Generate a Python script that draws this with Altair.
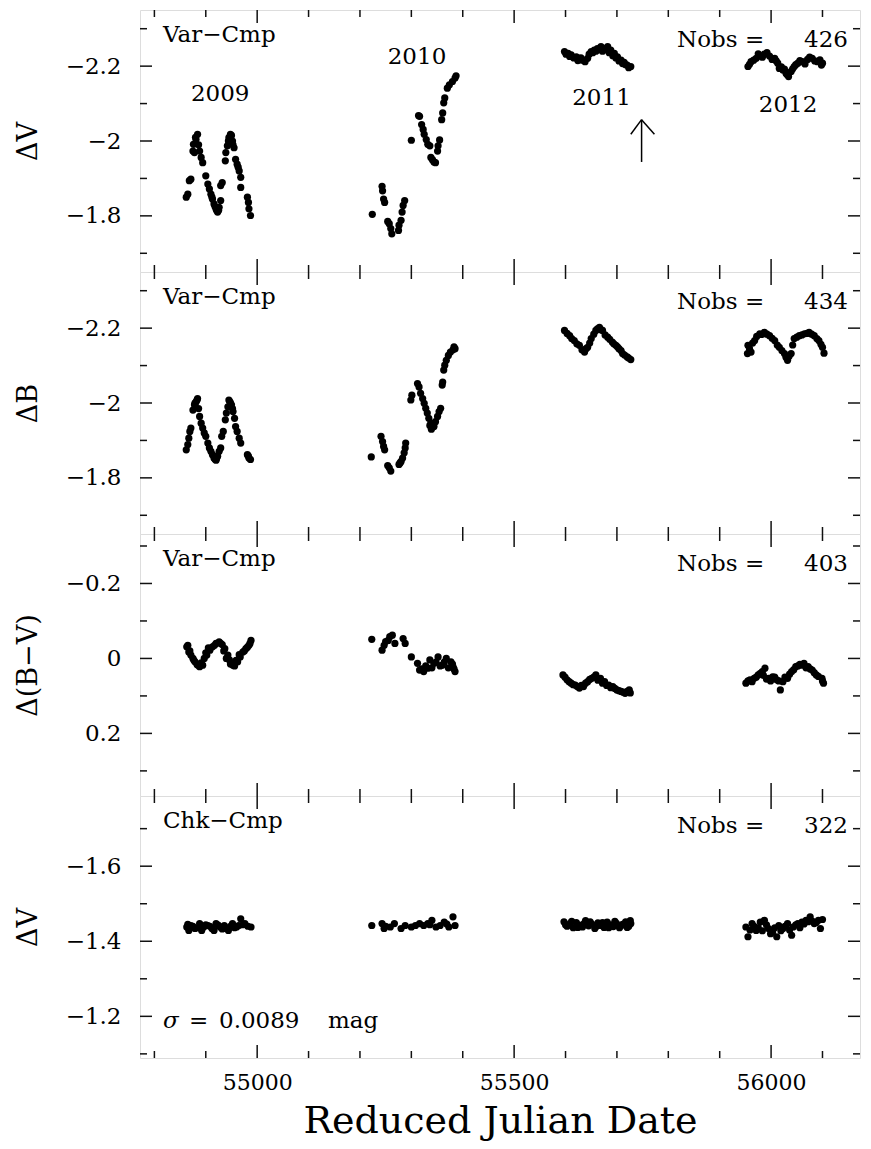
import altair as alt
import pandas as pd

FONT = "DejaVu Serif"
XDOM = [54772, 56173]
W, H = 720, 262

# ---------------- data ----------------
# Panel 1: Var-Cmp, Delta V
V_2009 = [(54862,-1.850),(54865,-1.858),(54868,-1.894),(54871,-1.898),(54875,-1.973),(54876,-1.991),
          (54878,-1.969),(54880,-2.010),(54881,-2.004),(54884,-2.018),(54886,-1.990),(54888,-1.973),
          (54891,-1.956),(54894,-1.942),(54900,-1.907),(54904,-1.885),(54907,-1.872),(54910,-1.858),
          (54912,-1.850),(54913,-1.845),(54916,-1.832),(54918,-1.825),(54920,-1.819),(54921,-1.815),
          (54923,-1.810),(54925,-1.815),(54926,-1.823),(54929,-1.841),(54929,-1.881),(54932,-1.889),
          (54938,-1.947),(54939,-1.969),(54942,-1.987),(54944,-2.000),(54945,-2.009),(54948,-2.018),
          (54950,-2.015),(54952,-2.000),(54953,-1.990),(54955,-1.982),(54958,-1.951),(54961,-1.938),
          (54963,-1.930),(54965,-1.920),(54968,-1.903),(54968,-1.876),(54981,-1.850),(54983,-1.836),
          (54984,-1.819),(54987,-1.801)]
V_2010 = [(55224,-1.804),(55243,-1.879),(55244,-1.867),(55246,-1.845),(55248,-1.836),(55254,-1.785),
          (55257,-1.779),(55260,-1.766),(55262,-1.752),(55275,-1.761),(55276,-1.775),(55280,-1.788),
          (55282,-1.810),(55284,-1.828),(55287,-1.841),(55300,-2.002),(55314,-2.068),(55316,-2.066),
          (55320,-2.044),(55323,-2.031),(55325,-2.018),(55329,-2.004),(55332,-1.991),(55336,-1.987),
          (55338,-1.956),(55341,-1.950),(55344,-1.944),(55347,-1.942),(55351,-1.973),(55352,-1.987),
          (55355,-2.003),(55359,-2.057),(55361,-2.075),(55363,-2.102),(55365,-2.115),(55370,-2.141),
          (55374,-2.150),(55380,-2.159),(55385,-2.168),(55387,-2.174)]
V_2011 = [(55598,-2.239),(55605,-2.234),(55611,-2.230),(55621,-2.225),(55627,-2.221),(55633,-2.216),
          (55638,-2.212),(55643,-2.221),(55650,-2.239),(55656,-2.243),(55662,-2.247),(55669,-2.252),
          (55675,-2.247),(55682,-2.252),(55688,-2.243),(55695,-2.234),(55701,-2.225),(55708,-2.216),
          (55714,-2.210),(55720,-2.203),(55727,-2.199),
          (55601,-2.232),(55608,-2.226),(55616,-2.222),(55624,-2.215),(55630,-2.222),(55646,-2.232),
          (55653,-2.236),(55659,-2.240),(55666,-2.244),(55672,-2.240),(55679,-2.244),(55685,-2.236),
          (55692,-2.228),(55698,-2.222),(55704,-2.214),(55711,-2.207),(55717,-2.204),(55723,-2.196)]
V_2012 = [(55955,-2.199),(55961,-2.212),(55971,-2.221),(55978,-2.227),(55987,-2.232),(55997,-2.227),
          (56007,-2.221),(56013,-2.208),(56016,-2.194),(56023,-2.190),(56029,-2.181),(56034,-2.172),
          (56039,-2.186),(56045,-2.199),(56052,-2.208),(56061,-2.212),(56071,-2.218),(56080,-2.221),
          (56090,-2.212),(56100,-2.208),
          (55958,-2.205),(55966,-2.216),(55975,-2.233),(55983,-2.224),(55992,-2.236),(56002,-2.218),
          (56010,-2.214),(56020,-2.198),(56026,-2.192),(56031,-2.178),(56042,-2.193),(56048,-2.204),
          (56056,-2.215),(56066,-2.206),(56075,-2.224),(56085,-2.214),(56095,-2.217),(56098,-2.203)]

# Panel 2: Var-Cmp, Delta B
B_2009 = [(54862,-1.875),(54865,-1.889),(54867,-1.906),(54869,-1.924),(54871,-1.933),(54875,-1.981),
          (54878,-1.995),(54881,-2.003),(54884,-2.012),(54888,-1.964),(54891,-1.946),(54894,-1.933),
          (54897,-1.920),(54900,-1.911),(54904,-1.893),(54907,-1.880),(54910,-1.871),(54913,-1.862),
          (54916,-1.853),(54920,-1.847),(54923,-1.858),(54926,-1.871),(54929,-1.880),(54931,-1.911),
          (54934,-1.924),(54938,-1.955),(54940,-1.973),(54943,-1.990),(54947,-2.003),(54950,-1.995),
          (54953,-1.977),(54956,-1.959),(54958,-1.937),(54961,-1.924),(54965,-1.906),(54968,-1.893),
          (54981,-1.862),(54984,-1.853),(54987,-1.849),
          (54879,-2.000),(54883,-2.008),(54886,-1.985),(54918,-1.850),(54921,-1.852),(54945,-2.008),
          (54948,-2.000),(54952,-1.985),(54983,-1.858)]
B_2010 = [(55222,-1.856),(55241,-1.911),(55244,-1.897),(55246,-1.884),(55248,-1.875),(55254,-1.833),
          (55257,-1.827),(55260,-1.818),(55276,-1.836),(55280,-1.844),(55283,-1.853),(55286,-1.867),
          (55288,-1.880),(55289,-1.893),(55299,-2.008),(55301,-2.021),(55312,-2.052),(55315,-2.043),
          (55318,-2.026),(55322,-2.012),(55325,-1.999),(55328,-1.986),(55331,-1.973),(55334,-1.959),
          (55338,-1.946),(55341,-1.936),(55344,-1.937),(55347,-1.950),(55351,-1.964),(55354,-1.977),
          (55357,-1.986),(55360,-2.048),(55361,-2.056),(55363,-2.088),(55365,-2.101),(55368,-2.114),
          (55372,-2.127),(55376,-2.136),(55381,-2.142),(55385,-2.145),
          (55278,-1.840),(55336,-1.940),(55339,-1.930),(55383,-2.150)]
B_2011 = [(55598,-2.194),(55608,-2.180),(55617,-2.167),(55627,-2.154),(55637,-2.136),(55643,-2.149),
          (55650,-2.172),(55659,-2.194),(55666,-2.202),(55672,-2.194),(55682,-2.176),(55691,-2.163),
          (55698,-2.154),(55704,-2.145),(55711,-2.132),(55720,-2.123),(55727,-2.116),
          (55603,-2.186),(55612,-2.172),(55622,-2.158),(55632,-2.142),(55640,-2.145),(55647,-2.160),
          (55655,-2.184),(55662,-2.198),(55669,-2.196),(55677,-2.182),(55686,-2.170),(55694,-2.158),
          (55701,-2.150),(55708,-2.140),(55715,-2.128),(55723,-2.120)]
B_2012 = [(55955,-2.154),(55954,-2.132),(55961,-2.136),(55968,-2.167),(55978,-2.185),(55987,-2.189),
          (55997,-2.180),(56007,-2.167),(56016,-2.149),(56026,-2.132),(56032,-2.114),(56039,-2.132),
          (56045,-2.172),(56055,-2.180),(56065,-2.185),(56074,-2.189),(56084,-2.180),(56093,-2.167),
          (56100,-2.149),(56103,-2.133),
          (55958,-2.145),(55964,-2.160),(55972,-2.178),(55982,-2.183),(55992,-2.184),(56002,-2.173),
          (56012,-2.155),(56021,-2.140),(56029,-2.122),(56035,-2.125),(56042,-2.155),(56050,-2.176),
          (56060,-2.182),(56070,-2.186),(56079,-2.184),(56089,-2.172),(56097,-2.157)]

# Panel 3: Var-Cmp, Delta(B-V)
BV_2009 = [(54863,-0.031),(54867,-0.017),(54871,-0.009),(54875,0.000),(54879,0.009),(54883,0.016),
           (54888,0.022),(54894,0.018),(54897,0.000),(54902,-0.009),(54908,-0.022),(54913,-0.031),
           (54920,-0.040),(54926,-0.044),(54932,-0.037),(54937,-0.026),(54943,-0.009),(54946,0.004),
           (54950,0.013),(54956,0.020),(54962,0.009),(54967,-0.004),(54972,-0.017),(54978,-0.026),
           (54984,-0.035),(54988,-0.048),
           (54865,-0.035),(54869,-0.020),(54877,0.005),(54885,0.018),(54891,0.012),(54900,-0.015),
           (54905,-0.028),(54917,-0.035),(54929,-0.040),(54935,-0.020),(54940,0.000),(54948,0.015),
           (54953,0.018),(54959,0.005),(54965,-0.010),(54975,-0.020),(54981,-0.030),(54986,-0.040)]
BV_2010 = [(55223,-0.051),(55243,-0.022),(55247,-0.035),(55255,-0.048),(55263,-0.062),(55284,-0.053),
           (55288,-0.040),(55300,-0.004),(55312,0.013),(55316,0.031),(55324,0.035),(55332,0.026),
           (55336,0.004),(55344,0.013),(55352,-0.004),(55360,0.018),(55368,0.000),(55377,0.009),
           (55381,0.022),(55385,0.035),
           (55250,-0.045),(55258,-0.058),(55268,-0.040),(55320,0.028),(55328,0.020),(55340,0.025),
           (55348,0.010),(55356,0.020),(55364,0.010),(55372,0.025),(55380,0.015),(55383,0.028)]
BV_2011 = [(55595,0.044),(55603,0.057),(55611,0.066),(55619,0.071),(55627,0.079),(55635,0.075),
           (55643,0.062),(55651,0.053),(55659,0.044),(55668,0.053),(55676,0.062),(55684,0.071),
           (55692,0.075),(55700,0.084),(55708,0.088),(55716,0.093),(55724,0.084),
           (55599,0.050),(55607,0.062),(55615,0.070),(55623,0.075),(55631,0.072),(55639,0.066),
           (55647,0.056),(55655,0.050),(55663,0.058),(55672,0.066),(55680,0.072),(55688,0.078),
           (55696,0.080),(55704,0.086),(55712,0.090),(55720,0.088),(55726,0.092)]
BV_2012 = [(55951,0.066),(55959,0.057),(55967,0.053),(55975,0.044),(55983,0.035),(55988,0.026),
           (55995,0.053),(56003,0.049),(56011,0.057),(56018,0.084),(56023,0.062),(56032,0.053),
           (56040,0.035),(56048,0.022),(56056,0.016),(56064,0.013),(56072,0.022),(56080,0.031),
           (56088,0.044),(56099,0.053),(56102,0.066),
           (55955,0.060),(55963,0.062),(55971,0.050),(55979,0.040),(55985,0.045),(55991,0.055),
           (55999,0.060),(56007,0.050),(56015,0.060),(56027,0.050),(56036,0.042),(56044,0.030),
           (56052,0.020),(56060,0.018),(56068,0.025),(56076,0.028),(56084,0.038),(56092,0.048),
           (56100,0.060)]

# Panel 4: Chk-Cmp, Delta V
C_2009 = [(54863,-1.438),(54867,-1.429),(54871,-1.442),(54879,-1.434),(54888,-1.447),(54892,-1.429),
          (54896,-1.438),(54904,-1.442),(54912,-1.434),(54916,-1.429),(54920,-1.447),(54928,-1.438),
          (54936,-1.442),(54940,-1.434),(54944,-1.429),(54952,-1.447),(54960,-1.438),(54964,-1.442),
          (54968,-1.460),(54976,-1.447),(54988,-1.438),
          (54865,-1.445),(54875,-1.440),(54884,-1.436),(54900,-1.444),(54908,-1.440),(54924,-1.443),
          (54932,-1.433),(54948,-1.440),(54956,-1.436),(54972,-1.444),(54982,-1.440)]
C_2010 = [(55223,-1.442),(55243,-1.447),(55247,-1.434),(55259,-1.438),(55267,-1.447),(55280,-1.434),
          (55288,-1.442),(55300,-1.438),(55308,-1.442),(55316,-1.447),(55324,-1.442),(55332,-1.447),
          (55340,-1.456),(55348,-1.438),(55356,-1.442),(55364,-1.451),(55373,-1.438),(55381,-1.465),
          (55385,-1.442),(55250,-1.440),(55336,-1.444),(55369,-1.446)]
C_2011 = [(55597,-1.452),(55603,-1.440),(55609,-1.447),(55615,-1.436),(55621,-1.450),(55627,-1.443),
          (55633,-1.438),(55639,-1.455),(55645,-1.441),(55651,-1.446),(55657,-1.434),(55663,-1.449),
          (55669,-1.442),(55675,-1.437),(55681,-1.451),(55687,-1.444),(55693,-1.439),(55699,-1.448),
          (55705,-1.436),(55711,-1.445),(55717,-1.452),(55723,-1.440),(55727,-1.447),
          (55600,-1.444),(55612,-1.453),(55624,-1.437),(55636,-1.447),(55648,-1.452),(55660,-1.440),
          (55672,-1.450),(55684,-1.436),(55696,-1.453),(55708,-1.441),(55720,-1.437),(55726,-1.455)]
C_2012 = [(55951,-1.438),(55955,-1.412),(55963,-1.447),(55971,-1.429),(55979,-1.451),(55987,-1.456),
          (55995,-1.434),(56003,-1.425),(56011,-1.412),(56015,-1.442),(56023,-1.434),(56032,-1.447),
          (56040,-1.416),(56043,-1.438),(56052,-1.447),(56060,-1.451),(56068,-1.456),(56076,-1.465),
          (56084,-1.447),(56092,-1.456),(56096,-1.434),
          (55959,-1.430),(55967,-1.440),(55975,-1.436),(55983,-1.428),(55991,-1.444),(55999,-1.420),
          (56007,-1.436),(56019,-1.428),(56027,-1.440),(56036,-1.430),(56048,-1.444),(56056,-1.436),
          (56064,-1.446),(56072,-1.452),(56080,-1.454),(56088,-1.450),(56100,-1.458)]

# axis tick values
X_MAJOR = [55000, 55500, 56000]
X_MINOR = [54800, 54900, 55100, 55200, 55300, 55400, 55600, 55700, 55800, 55900, 56100]

# annotations
YEARS = ["2009", "2010", "2011", "2012"]
YEAR_JD = [54928, 55311, 55670, 56033]
YEAR_MAG = [-2.125, -2.224, -2.115, -2.095]
ARROW_JD = [55748, 55748, 55748]
ARROW_MAG = [-1.944, -2.057, -2.057]
ARROW_JD2 = [55748, 55727, 55773]
ARROW_MAG2 = [-2.057, -2.018, -2.018]

TS = 23  # text size


def frame(seasons):
    rows = [p for s in seasons for p in s]
    return pd.DataFrame(rows, columns=["jd", "mag"])


def panel(seasons, ydom, ymajor, yminor, ytitle, tag, nobs, bottom=False, extras=()):
    if bottom:
        xaxis = alt.Axis(values=X_MAJOR, format="d", ticks=False, tickSize=0, domain=False, grid=False,
                         labelPadding=14, labelFont=FONT, labelFontSize=22, labelColor="black",
                         title="Reduced Julian Date", titleFont=FONT, titleFontSize=38,
                         titleFontWeight="normal", titleColor="black", titlePadding=9)
    else:
        xaxis = None
    yaxis = alt.Axis(values=ymajor, format="~g", ticks=False, tickSize=0, domain=False, grid=False,
                     labelPadding=19, labelFont=FONT, labelFontSize=TS, labelColor="black",
                     title=ytitle, titleFont=FONT, titleFontSize=27, titleFontWeight="normal",
                     titleColor="black", titleX=-98)

    def X():
        return alt.X("jd:Q", scale=alt.Scale(domain=XDOM, nice=False, zero=False), axis=xaxis)

    def Y():
        return alt.Y("mag:Q", scale=alt.Scale(domain=ydom, reverse=True, nice=False, zero=False),
                     axis=yaxis)

    layers = []
    pts = alt.Chart(frame(seasons)).mark_circle(size=52, color="black", opacity=1).encode(x=X(), y=Y())
    layers.append(pts)

    rule = dict(color="#111111", strokeWidth=1.5)
    for vals, ln in ((X_MAJOR, 13), (X_MINOR, 7)):
        d = pd.DataFrame({"jd": vals})
        layers.append(alt.Chart(d).mark_rule(**rule).encode(x=X(), y=alt.value(H), y2=alt.value(H - ln)))
        layers.append(alt.Chart(d).mark_rule(**rule).encode(x=X(), y=alt.value(0), y2=alt.value(ln)))
    for vals, ln in ((ymajor, 12), (yminor, 7)):
        d = pd.DataFrame({"mag": vals})
        layers.append(alt.Chart(d).mark_rule(**rule).encode(y=Y(), x=alt.value(0), x2=alt.value(ln)))
        layers.append(alt.Chart(d).mark_rule(**rule).encode(y=Y(), x=alt.value(W), x2=alt.value(W - ln)))

    txt = dict(font=FONT, fontSize=TS, color="black")
    layers.append(alt.Chart(pd.DataFrame({"t": [tag]})).mark_text(align="left", baseline="alphabetic", **txt)
                  .encode(x=alt.value(23), y=alt.value(32), text="t:N"))
    layers.append(alt.Chart(pd.DataFrame({"t": ["Nobs"]})).mark_text(align="left", baseline="alphabetic", **txt)
                  .encode(x=alt.value(537), y=alt.value(37), text="t:N"))
    layers.append(alt.Chart(pd.DataFrame({"t": ["="]})).mark_text(align="left", baseline="alphabetic", **txt)
                  .encode(x=alt.value(605), y=alt.value(37), text="t:N"))
    layers.append(alt.Chart(pd.DataFrame({"t": [str(nobs)]})).mark_text(align="right", baseline="alphabetic", **txt)
                  .encode(x=alt.value(708), y=alt.value(37), text="t:N"))

    for e in extras:
        layers.append(e(X, Y, txt))

    return alt.layer(*layers).properties(width=W, height=H)


def year_labels(X, Y, txt):
    d = pd.DataFrame({"jd": YEAR_JD, "mag": YEAR_MAG, "label": YEARS})
    return alt.Chart(d).mark_text(align="center", baseline="middle", **txt).encode(x=X(), y=Y(), text="label:N")


def arrow(X, Y, txt):
    d = pd.DataFrame({"jd": ARROW_JD, "mag": ARROW_MAG, "jd2": ARROW_JD2, "mag2": ARROW_MAG2})
    return alt.Chart(d).mark_rule(color="black", strokeWidth=1.5).encode(
        x=X(), y=Y(), x2="jd2:Q", y2="mag2:Q")


def sigma(X, Y, txt):
    d = pd.DataFrame({"t": ["σ", "=", "0.0089", "mag"], "px": [23, 49, 79, 188],
                      "st": ["italic", "normal", "normal", "normal"]})
    base = alt.Chart(d)
    a = base.transform_filter("datum.st == 'italic'").mark_text(
        align="left", baseline="alphabetic", fontStyle="italic", **txt).encode(
        x=alt.X("px:Q", scale=None), y=alt.value(232), text="t:N")
    b = base.transform_filter("datum.st == 'normal'").mark_text(
        align="left", baseline="alphabetic", **txt).encode(
        x=alt.X("px:Q", scale=None), y=alt.value(232), text="t:N")
    return alt.layer(a, b)


p1 = panel([V_2009, V_2010, V_2011, V_2012], [-2.35, -1.65], [-2.2, -2.0, -1.8], [-2.3, -2.1, -1.9, -1.7],
           "ΔV", "Var−Cmp", 426, extras=(year_labels, arrow))
p2 = panel([B_2009, B_2010, B_2011, B_2012], [-2.35, -1.65], [-2.2, -2.0, -1.8], [-2.3, -2.1, -1.9, -1.7],
           "ΔB", "Var−Cmp", 434)
p3 = panel([BV_2009, BV_2010, BV_2011, BV_2012], [-0.332, 0.367], [-0.2, 0.0, 0.2], [-0.3, -0.1, 0.1, 0.3],
           "Δ(B−V)", "Var−Cmp", 403)
p4 = panel([C_2009, C_2010, C_2011, C_2012], [-1.787, -1.089], [-1.6, -1.4, -1.2], [-1.7, -1.5, -1.3, -1.1],
           "ΔV", "Chk−Cmp", 322, bottom=True, extras=(sigma,))

chart = alt.vconcat(p1, p2, p3, p4, spacing=0, bounds="flush").properties(
    padding={"left": 5, "top": 0, "right": 0, "bottom": 0}
).configure_view(stroke="#111111", strokeWidth=2).configure(font=FONT, background="white")

chart.save("out.html", embed_options={"renderer": "svg", "actions": False})
